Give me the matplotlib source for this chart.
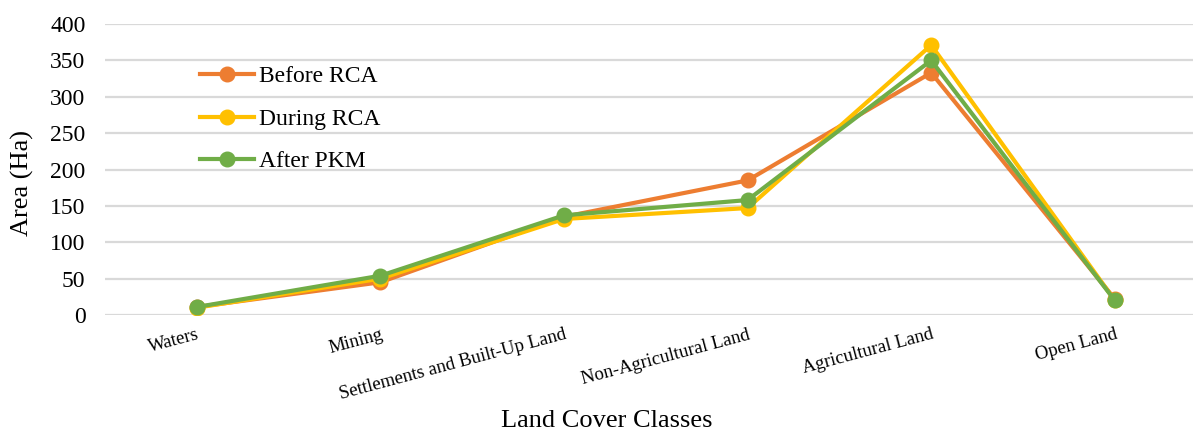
import numpy as np
import matplotlib
matplotlib.use('Agg')
import matplotlib.pyplot as plt

plt.rcParams['font.family'] = ['Liberation Serif', 'DejaVu Serif']

classes = ['Waters', 'Mining', 'Settlements and Built-Up Land',
           'Non-Agricultural Land', 'Agricultural Land', 'Open Land']
before_rca = [11, 45, 135, 185, 333, 22]
during_rca = [10, 50, 132, 147, 371, 20]
after_pkm = [11, 54, 137, 158, 350, 20]

W, H = 1193, 434
fig = plt.figure(figsize=(W / 100, H / 100), dpi=100)
ax = fig.add_axes([105 / W, 119 / H, (W - 105) / W, 291 / H])

x = np.arange(len(classes))
ax.plot(x, before_rca, color='#ED7D31', lw=3, marker='o', ms=10.5, label='Before RCA', zorder=3)
ax.plot(x, during_rca, color='#FFC000', lw=3, marker='o', ms=10.5, label='During RCA', zorder=4)
ax.plot(x, after_pkm, color='#70AD47', lw=3, marker='o', ms=10.5, label='After PKM', zorder=5)

ax.set_ylim(0, 400)
ax.set_yticks(np.arange(0, 401, 50))
ax.set_xlim(-0.5, -0.5 + (W - 105) / 183.6)
ax.set_xticks(x)
ax.set_xticklabels(classes, rotation=15, ha='right', rotation_mode='anchor', fontsize=13.5)
ax.tick_params(axis='y', labelsize=17, length=0, pad=14)
ax.tick_params(axis='x', length=0, pad=8)
ax.grid(axis='y', color='#D9D9D9', lw=1.6)
ax.set_axisbelow(True)
for s in ax.spines.values():
    s.set_visible(False)

fig.text(22 / W, 1 - 183 / H, 'Area (Ha)', rotation=90, ha='center', va='center', fontsize=19)
fig.text(607 / W, 1 - 421 / H, 'Land Cover Classes', ha='center', va='center', fontsize=19)

ax.legend(loc='center left', bbox_to_anchor=(200 / W, 1 - 119 / H), bbox_transform=fig.transFigure,
          frameon=False, fontsize=17, borderpad=0, borderaxespad=0, handlelength=2.3,
          handletextpad=0.2, labelspacing=0.88)

fig.savefig('out.png', dpi=100)
